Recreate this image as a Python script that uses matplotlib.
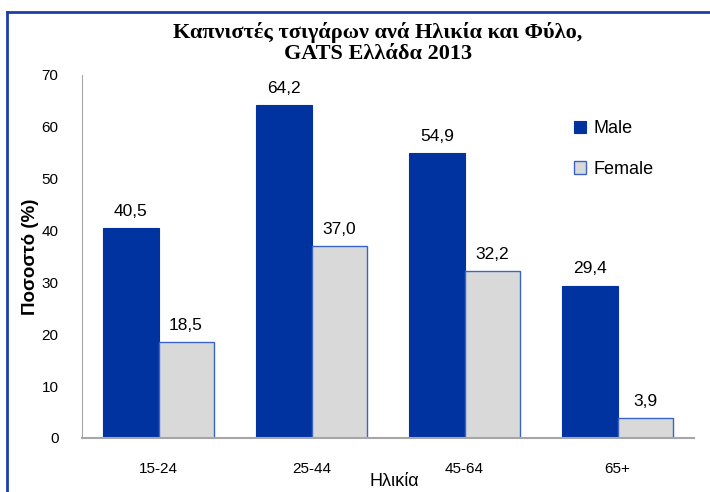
import matplotlib
matplotlib.use('Agg')
import matplotlib.pyplot as plt
import numpy as np
from matplotlib.lines import Line2D

# données
groupes = ['15-24', '25-44', '45-64', '65+']
hommes = [40.5, 64.2, 54.9, 29.4]
femmes = [18.5, 37.0, 32.2, 3.9]

plt.rcParams['font.family'] = ['Liberation Sans', 'DejaVu Sans']

fig = plt.figure(figsize=(7.1, 4.92), dpi=100)
ax = fig.add_axes([0.1155, 0.1098, 0.862, 0.7378])

x = np.arange(len(groupes))
w = 0.36
b1 = ax.bar(x - w / 2, hommes, w, color='#0033a0', edgecolor='#0033a0', linewidth=0.8, label='Male')
b2 = ax.bar(x + w / 2, femmes, w, color='#d9d9d9', edgecolor='#3a64c8', linewidth=1.0, label='Female')

for rects, vals in [(b1, hommes), (b2, femmes)]:
    for r, v in zip(rects, vals):
        ax.text(r.get_x() + r.get_width() / 2, v + 3.2, f'{v:.1f}'.replace('.', ','),
                ha='center', va='center', fontsize=12.5)

ax.set_xlim(-0.5, 3.5)
ax.set_ylim(0, 70)
ax.set_yticks(range(0, 71, 10))
ax.set_xticks(x)
ax.set_xticklabels(groupes)
ax.tick_params(axis='both', length=0, labelsize=11)
ax.tick_params(axis='y', pad=17)
ax.tick_params(axis='x', pad=17)
for s in ['top', 'right']:
    ax.spines[s].set_visible(False)
ax.spines['left'].set_color('#a6a6a6')
ax.spines['bottom'].set_color('#a6a6a6')
ax.spines['bottom'].set_linewidth(1.5)

ax.set_ylabel('Ποσοστό (%)', fontsize=13.5, fontweight='bold')
ax.yaxis.set_label_coords(-0.07, 0.5)
ax.set_xlabel('Ηλικία', fontsize=13)
ax.xaxis.set_label_coords(0.51, -0.097)

fig.text(0.532, 0.912, 'Καπνιστές τσιγάρων ανά Ηλικία και Φύλο,\nGATS Ελλάδα 2013',
         ha='center', va='center', fontsize=16, fontweight='bold',
         family=['Liberation Serif', 'DejaVu Serif'], linespacing=1.05)

ax.legend(loc='upper left', bbox_to_anchor=(0.777, 0.92), frameon=False, fontsize=13,
          handlelength=0.7, handleheight=0.7, handletextpad=0.4, labelspacing=1.3)

# cadre bleu
fig.add_artist(Line2D([7 / 710, 7 / 710], [0, 1 - 12 / 492], color='#1f3fa8', lw=2, transform=fig.transFigure))
fig.add_artist(Line2D([7 / 710, 1], [1 - 12 / 492, 1 - 12 / 492], color='#1f3fa8', lw=2, transform=fig.transFigure))

fig.savefig('out.png', dpi=100)
